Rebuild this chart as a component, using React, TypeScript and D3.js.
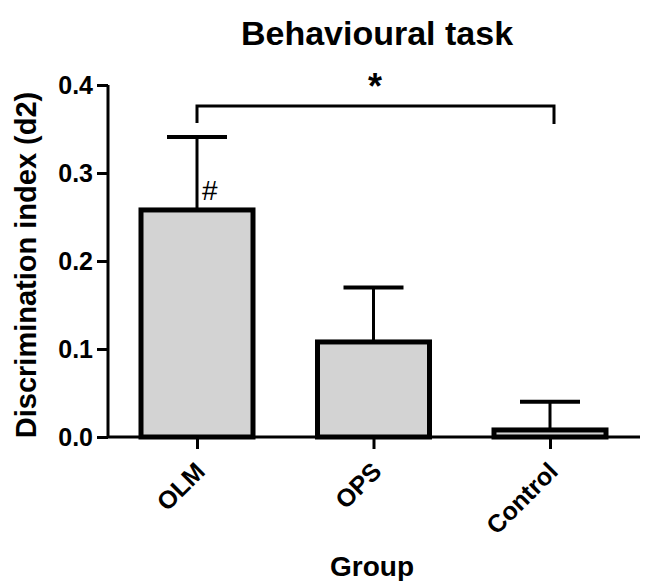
import React, { useEffect, useRef } from 'react';
import * as d3 from 'd3';

const groups = ['OLM', 'OPS', 'Control'];
const means = [0.258, 0.108, 0.008];
const sems = [0.083, 0.062, 0.032];
const yTicks = [0.0, 0.1, 0.2, 0.3, 0.4];

const W = 649;
const H = 581;
const FONT = 'Liberation Sans, Arial, sans-serif';

const App = () => {
  const ref = useRef<SVGSVGElement>(null);

  useEffect(() => {
    const svg = d3.select(ref.current);
    svg.selectAll('*').remove();

    const x = d3.scalePoint().domain(groups).range([197, 550]);
    const y = d3.scaleLinear().domain([0, 0.4]).range([437, 85]);
    const barW = 112;
    const capW = 60;

    svg.append('text')
      .attr('x', 377).attr('y', 45)
      .attr('text-anchor', 'middle')
      .style('font-family', FONT).style('font-weight', 'bold').style('font-size', '34px')
      .text('Behavioural task');

    // error bars (drawn first so bar covers the lower part)
    const err = svg.append('g').selectAll('g').data(groups).enter().append('g');
    err.append('line')
      .attr('x1', d => x(d)!).attr('x2', d => x(d)!)
      .attr('y1', (d, i) => y(means[i])).attr('y2', (d, i) => y(means[i] + sems[i]))
      .attr('stroke', '#000').attr('stroke-width', 3);
    err.append('line')
      .attr('x1', d => x(d)! - capW / 2).attr('x2', d => x(d)! + capW / 2)
      .attr('y1', (d, i) => y(means[i] + sems[i])).attr('y2', (d, i) => y(means[i] + sems[i]))
      .attr('stroke', '#000').attr('stroke-width', 4);

    svg.append('g').selectAll('rect').data(groups).enter().append('rect')
      .attr('x', d => x(d)! - barW / 2)
      .attr('width', barW)
      .attr('y', (d, i) => y(means[i]))
      .attr('height', (d, i) => y(0) - y(means[i]))
      .attr('fill', '#d3d3d3')
      .attr('stroke', '#000').attr('stroke-width', 5);

    // y axis
    const yAxis = svg.append('g').attr('transform', 'translate(108,0)')
      .call(d3.axisLeft(y).tickValues(yTicks).tickFormat(d3.format('.1f')).tickSize(11).tickPadding(4));
    yAxis.select('.domain').attr('stroke-width', 3).attr('d', `M0,${y(0.4)}V${y(0)}`);
    yAxis.selectAll('.tick line').attr('stroke-width', 3);
    yAxis.selectAll('.tick text')
      .style('font-family', FONT).style('font-weight', 'bold').style('font-size', '25px').attr('fill', '#000');

    // x axis
    const xAxis = svg.append('g').attr('transform', `translate(0,${y(0)})`)
      .call(d3.axisBottom(x).tickSize(12).tickPadding(2));
    xAxis.select('.domain').attr('stroke-width', 3).attr('d', 'M108,0H640');
    xAxis.selectAll('.tick line').attr('stroke-width', 3);
    xAxis.selectAll('.tick text')
      .style('font-family', FONT).style('font-weight', 'bold').style('font-size', '25px').attr('fill', '#000')
      .attr('text-anchor', 'end')
      .attr('y', 0).attr('dy', 0)
      .attr('transform', 'translate(9,36) rotate(-45)');

    svg.append('text')
      .attr('transform', 'translate(36,265) rotate(-90)')
      .attr('text-anchor', 'middle')
      .style('font-family', FONT).style('font-weight', 'bold').style('font-size', '29px')
      .text('Discrimination index (d2)');

    svg.append('text')
      .attr('x', 372).attr('y', 576)
      .attr('text-anchor', 'middle')
      .style('font-family', FONT).style('font-weight', 'bold').style('font-size', '28px')
      .text('Group');

    // significance bracket
    const x0 = x('OLM')!;
    const x2 = x('Control')! + 4;
    svg.append('path')
      .attr('d', `M${x0},123V106H${x2}V124`)
      .attr('fill', 'none').attr('stroke', '#000').attr('stroke-width', 3);
    svg.append('text')
      .attr('x', 375).attr('y', 99)
      .attr('text-anchor', 'middle')
      .style('font-family', FONT).style('font-weight', 'bold').style('font-size', '36px')
      .text('*');
    svg.append('text')
      .attr('x', x0 + 5).attr('y', 200)
      .style('font-family', FONT).style('font-size', '28px')
      .text('#');
  }, []);

  return (
    <svg ref={ref} width={W} height={H} style={{ position: 'absolute', left: 0, top: 0, background: '#fff' }} />
  );
};

export default App;
